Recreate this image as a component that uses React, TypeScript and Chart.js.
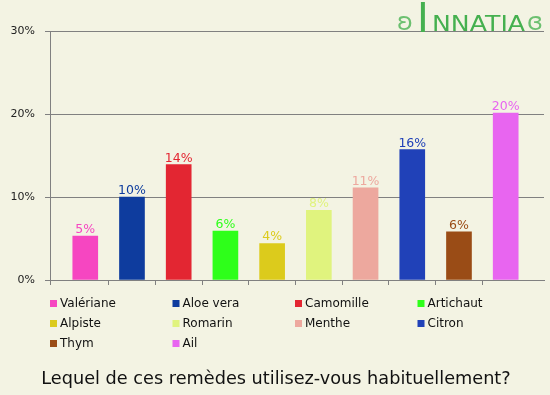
import React, { useEffect, useRef } from 'react';
import { Chart, registerables } from 'chart.js';
Chart.register(...registerables);

const categories = ['Valériane', 'Aloe vera', 'Camomille', 'Artichaut', 'Alpiste', 'Romarin', 'Menthe', 'Citron', 'Thym', 'Ail'];
const values = [5.3, 10.0, 13.9, 5.9, 4.4, 8.4, 11.1, 15.7, 5.8, 20.1];
const colors = ['#F646C1', '#0E3C9E', '#E32632', '#2EFF1A', '#DCCB1C', '#E0F37E', '#EDA89E', '#2041B8', '#9A4C16', '#E865F0'];
const yTickValues = [0, 10, 20, 30];
const questionTitle = 'Lequel de ces remèdes utilisez-vous habituellement?';
const brand = 'INNATIA';

const BG = '#F3F3E3';
const FONT = '"DejaVu Sans", Verdana, sans-serif';

const valueLabels = {
  id: 'valueLabels',
  afterDatasetsDraw(chart: any) {
    const ctx = chart.ctx;
    const meta = chart.getDatasetMeta(0);
    ctx.save();
    ctx.font = `12.5px ${FONT}`;
    ctx.textAlign = 'center';
    ctx.textBaseline = 'alphabetic';
    meta.data.forEach((el: any, i: number) => {
      ctx.fillStyle = colors[i];
      ctx.fillText(Math.round(values[i]) + '%', el.x, el.y - 3);
    });
    ctx.restore();
  },
};

const legendAndTitle = {
  id: 'legendAndTitle',
  afterDraw(chart: any) {
    const ctx = chart.ctx;
    ctx.save();
    const colX = [50, 172.5, 295, 417.5];
    const rowY = [303, 323, 343];
    ctx.font = `12px ${FONT}`;
    ctx.textBaseline = 'middle';
    ctx.textAlign = 'left';
    categories.forEach((c, i) => {
      const x = colX[i % 4];
      const y = rowY[Math.floor(i / 4)];
      ctx.fillStyle = colors[i];
      ctx.fillRect(x, y - 3, 7, 7);
      ctx.fillStyle = '#111';
      ctx.fillText(c, x + 10, y + 0.5);
    });
    ctx.font = `17.7px ${FONT}`;
    ctx.textAlign = 'center';
    ctx.fillStyle = '#111';
    ctx.fillText(questionTitle, 276, 379);

    // brand logo
    ctx.textBaseline = 'alphabetic';
    ctx.fillStyle = '#45B04F';
    ctx.font = `40px ${FONT}`;
    ctx.textAlign = 'left';
    ctx.fillText(brand[0], 417, 32);
    ctx.font = `21px ${FONT}`;
    ctx.save();
    ctx.translate(432, 31);
    ctx.scale(1.2, 1);
    ctx.fillText(brand.slice(1), 0, 0);
    ctx.restore();
    ctx.font = `24px ${FONT}`;
    ctx.fillStyle = '#6CC070';
    ctx.fillText('ʚ', 397, 30);
    ctx.fillText('ɞ', 527, 30);
    ctx.restore();
  },
};

export default function App() {
  const ref = useRef<HTMLCanvasElement>(null);
  useEffect(() => {
    document.body.style.margin = '0';
    document.body.style.background = BG;
    const xTicks = [-0.755, ...categories.slice(1).map((_, i) => i + 0.5)];
    const chart = new Chart(ref.current!, {
      type: 'bar',
      data: {
        datasets: [
          {
            data: values.map((v, i) => ({ x: i, y: v })),
            backgroundColor: colors,
            barThickness: 25,
          },
        ],
      },
      options: {
        animation: false,
        responsive: false,
        layout: { padding: { top: 31, right: 6, bottom: 110, left: 0 } },
        plugins: { legend: { display: false }, tooltip: { enabled: false } },
        scales: {
          x: {
            type: 'linear',
            bounds: 'data',
            min: -0.755,
            max: 9.82,
            offset: false,
            afterBuildTicks: (s: any) => {
              s.ticks = xTicks.map((v) => ({ value: v }));
            },
            ticks: { display: false },
            grid: { offset: false, drawOnChartArea: false, tickLength: 5, color: '#808080' },
            border: { color: '#808080' },
            afterFit: (s: any) => {
              s.height = 5;
            },
          },
          y: {
            min: 0,
            max: 30,
            afterBuildTicks: (s: any) => {
              s.ticks = yTickValues.map((v) => ({ value: v }));
            },
            ticks: {
              callback: (v: any) => v + '%',
              color: '#222',
              font: { family: FONT, size: 11 },
              padding: 10,
            },
            grid: { color: '#808080', tickLength: 5 },
            border: { color: '#808080' },
            afterFit: (s: any) => {
              s.width = 50;
            },
          },
        },
      },
      plugins: [valueLabels, legendAndTitle],
    });
    return () => chart.destroy();
  }, []);
  return (
    <div style={{ width: 550, height: 395, background: BG }}>
      <canvas ref={ref} width={550} height={395} />
    </div>
  );
}
